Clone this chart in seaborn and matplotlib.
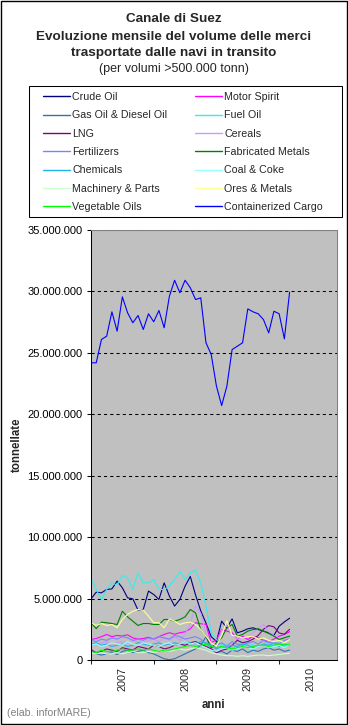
import numpy as np
import pandas as pd
import matplotlib
matplotlib.use("Agg")
import matplotlib.pyplot as plt
import seaborn as sns
from matplotlib.patches import Rectangle
from matplotlib.ticker import FuncFormatter

# ---------------- data (million tonnes per month, Jan 2007 - Mar 2010) ----------------
months = pd.date_range("2007-01-01", periods=39, freq="MS")

crude_oil = [4.98, 5.52, 5.47, 5.74, 5.79, 6.42, 5.88, 5.06, 4.98, 4.06, 4.11, 5.61, 5.33,
             4.93, 6.28, 5.20, 4.39, 4.93, 6.01, 6.80, 5.30, 4.00, 3.00, 1.90, 1.50, 3.16,
             2.60, 3.35, 2.21, 2.35, 2.54, 2.62, 2.48, 2.35, 2.21, 2.00, 2.75, 3.10, 3.40]
motor_spirit = [1.67, 1.75, 1.90, 2.08, 1.90, 2.00, 1.95, 2.05, 1.80, 1.70, 1.75, 1.85, 1.70,
                1.90, 2.08, 2.22, 2.10, 2.22, 2.30, 2.54, 3.03, 2.95, 2.90, 1.40, 1.67, 2.48,
                2.35, 2.22, 1.67, 1.94, 1.67, 1.94, 1.81, 1.60, 1.50, 1.70, 1.94, 2.08, 2.30]
gas_oil = [0.90, 0.50, 0.40, 0.50, 0.60, 0.45, 0.70, 0.80, 0.60, 0.70, 0.80, 0.60, 0.50,
           0.30, 0.10, 0.02, 0.10, 0.30, 0.50, 0.70, 0.90, 1.20, 1.90, 0.90, 0.60, 0.70,
           0.50, 0.80, 0.70, 0.90, 0.60, 0.80, 0.70, 0.90, 1.00, 0.80, 0.90, 0.70, 0.80]
fuel_oil = [6.69, 5.74, 4.92, 5.74, 6.28, 6.10, 6.88, 6.69, 5.74, 7.10, 6.28, 6.28, 6.55,
            5.74, 5.74, 6.01, 6.55, 7.23, 6.55, 7.10, 7.31, 6.28, 4.38, 2.21, 1.67, 1.20,
            1.30, 1.00, 1.20, 1.50, 1.40, 1.20, 1.10, 1.30, 1.50, 1.20, 1.40, 1.10, 1.30]
lng = [0.80, 0.60, 0.70, 0.90, 0.80, 0.70, 1.00, 0.90, 0.80, 1.10, 1.00, 0.90, 1.20,
       1.10, 0.90, 1.00, 1.20, 1.30, 1.20, 1.40, 1.50, 1.30, 1.10, 0.90, 0.60, 0.80,
       0.90, 1.20, 1.60, 1.40, 1.50, 1.70, 2.00, 2.50, 2.80, 2.70, 2.20, 2.10, 2.50]
cereals = [1.30, 1.20, 1.40, 1.50, 1.30, 1.40, 1.50, 1.40, 1.60, 1.50, 1.40, 1.60, 1.70,
           1.50, 1.80, 1.60, 1.90, 1.60, 2.10, 3.00, 4.40, 3.80, 2.20, 1.10, 0.90, 2.40,
           2.80, 2.00, 1.70, 1.80, 1.90, 2.20, 2.60, 2.90, 2.30, 2.00, 1.80, 1.60, 1.90]
fertilizers = [1.60, 1.50, 1.70, 1.60, 1.80, 1.70, 1.90, 1.80, 1.60, 1.70, 1.60, 1.80, 1.70,
               1.90, 1.80, 1.70, 2.00, 1.90, 1.70, 1.80, 1.90, 1.70, 1.30, 1.00, 1.20, 1.40,
               1.10, 1.50, 1.30, 1.20, 1.40, 1.50, 1.30, 1.60, 1.40, 1.50, 1.30, 1.60, 1.70]
fabricated_metals = [3.03, 2.55, 3.08, 3.03, 2.97, 2.89, 3.97, 3.51, 3.16, 2.81, 2.97, 2.97, 2.89,
                     2.89, 3.30, 3.30, 3.16, 3.30, 3.51, 4.11, 3.84, 2.48, 1.94, 1.00, 1.40, 1.81,
                     2.62, 2.89, 1.94, 2.08, 2.35, 2.48, 2.54, 2.35, 2.16, 1.94, 1.67, 1.81, 1.94]
chemicals = [1.30, 1.40, 1.20, 1.30, 1.10, 1.20, 1.30, 1.10, 1.20, 1.40, 1.30, 1.20, 1.30,
             1.40, 1.20, 1.30, 1.40, 1.30, 1.50, 1.40, 1.30, 1.50, 1.40, 1.20, 0.90, 1.10,
             1.00, 1.20, 1.10, 1.30, 1.20, 1.00, 1.10, 1.30, 1.20, 1.40, 1.10, 1.30, 1.20]
coal_coke = [1.20, 1.30, 1.10, 1.20, 1.40, 1.30, 1.20, 1.50, 1.30, 1.20, 1.40, 1.30, 1.20,
             1.10, 1.30, 1.40, 1.20, 1.30, 1.50, 1.30, 1.40, 1.20, 1.00, 0.80, 0.70, 0.90,
             1.00, 0.80, 0.90, 1.10, 1.00, 0.90, 1.10, 1.20, 1.00, 1.10, 1.20, 1.00, 1.30]
machinery = [0.60, 0.50, 0.60, 0.50, 0.50, 0.60, 0.50, 0.60, 0.70, 0.60, 0.60, 0.70, 0.60,
             0.70, 0.80, 0.70, 0.80, 0.90, 0.80, 0.90, 1.00, 0.90, 0.80, 0.60, 0.50, 0.40,
             0.35, 0.35, 0.30, 0.35, 0.30, 0.35, 0.40, 0.40, 0.35, 0.40, 0.45, 0.50, 0.55]
ores_metals = [3.03, 2.81, 2.97, 2.81, 2.89, 2.62, 3.30, 3.71, 3.97, 4.11, 4.06, 3.57, 3.03,
               3.03, 2.62, 3.35, 3.16, 2.89, 3.03, 3.08, 2.89, 2.48, 1.94, 1.40, 1.13, 2.00,
               3.20, 2.00, 1.94, 1.80, 1.90, 1.94, 1.70, 1.80, 1.60, 1.50, 1.60, 1.40, 1.67]
vegetable_oils = [0.70, 0.60, 0.80, 0.70, 0.70, 0.80, 0.90, 0.80, 0.80, 0.90, 0.80, 0.90, 0.80,
                  0.70, 0.80, 0.80, 0.90, 1.00, 1.10, 1.20, 1.10, 1.20, 1.30, 1.10, 1.00, 1.10,
                  1.00, 0.90, 1.00, 1.10, 1.00, 1.10, 1.20, 1.20, 1.10, 1.20, 1.30, 1.20, 1.30]
containerized = [24.19, 24.19, 26.09, 26.36, 28.34, 26.76, 29.56, 28.26, 27.45, 28.04, 26.90,
                 28.18, 27.53, 28.45, 27.04, 29.61, 30.91, 29.89, 30.91, 30.30, 29.34, 29.48,
                 25.82, 24.87, 22.30, 20.71, 22.29, 25.27, 25.54, 25.82, 28.58, 28.34, 28.18,
                 27.71, 26.63, 28.39, 28.18, 26.14, 29.94]

series_names = ["Crude Oil", "Motor Spirit", "Gas Oil & Diesel Oil", "Fuel Oil", "LNG",
                "Cereals", "Fertilizers", "Fabricated Metals", "Chemicals", "Coal & Coke",
                "Machinery & Parts", "Ores & Metals", "Vegetable Oils", "Containerized Cargo"]
series_values = [crude_oil, motor_spirit, gas_oil, fuel_oil, lng, cereals, fertilizers,
                 fabricated_metals, chemicals, coal_coke, machinery, ores_metals,
                 vegetable_oils, containerized]
series_colors = ["#000080", "#FF00FF", "#2E75B0", "#33EEEE", "#800080", "#CC99FF",
                 "#8080FF", "#008000", "#1EB4E6", "#99FFFF", "#CCFFCC", "#FFFF99",
                 "#00FF00", "#0000FF"]
year_labels = ["2007", "2008", "2009", "2010"]

# ---------------- long table ----------------
month_pos = (months.year - 2007) * 12 + (months.month - 1)
rows = []
for name, vals in zip(series_names, series_values):
    for p, v in zip(month_pos, vals):
        rows.append({"mese": p, "tonnellate": v * 1_000_000, "merce": name})
df = pd.DataFrame(rows)

sns.set_style("white")
plt.rcParams["font.family"] = ["Liberation Sans", "DejaVu Sans"]

W, H = 348, 725
fig = plt.figure(figsize=(W / 100, H / 100), dpi=100)
fig.patch.set_facecolor("white")

def fx(px):
    return px / W

def fy(py):
    return 1 - py / H

ax = fig.add_axes([fx(91), fy(660), fx(337) - fx(91), fy(230) - fy(660)])
ax.set_facecolor("#C0C0C0")

sns.lineplot(data=df, x="mese", y="tonnellate", hue="merce", hue_order=series_names,
             palette=dict(zip(series_names, series_colors)), linewidth=0.8, ax=ax,
             legend=True)

ax.set_xlim(0, 47.07)
ax.set_ylim(0, 35_000_000)
ax.set_yticks(np.arange(0, 35_000_001, 5_000_000))
ax.yaxis.set_major_formatter(FuncFormatter(lambda v, p: f"{v:,.0f}".replace(",", ".")))
ax.set_xticks([0, 12, 24, 36])
ax.set_xticklabels([])
ax.set_xticks([6, 18, 30, 42], minor=True)
ax.set_xticklabels(year_labels, minor=True, rotation=90, fontsize=7.8)
ax.tick_params(axis="y", left=True, direction="out", length=3, width=0.75,
               pad=3, labelsize=8, colors="black")
ax.tick_params(axis="x", which="major", bottom=True, direction="out", length=3, width=0.75)
ax.tick_params(axis="x", which="minor", bottom=True, length=0, pad=5)
ax.set_xlabel("")
ax.set_ylabel("")

ax.set_axisbelow(True)
ax.yaxis.grid(True, color="black", linestyle=(0, (3, 3)), linewidth=0.75)
ax.xaxis.grid(False)
for s in ["top", "right"]:
    ax.spines[s].set_color("#808080")
    ax.spines[s].set_linewidth(0.75)
for s in ["left", "bottom"]:
    ax.spines[s].set_color("black")
    ax.spines[s].set_linewidth(0.75)

# legend, row-wise order
handles, labels = ax.get_legend_handles_labels()
ax.get_legend().remove()
order = list(range(0, 14, 2)) + list(range(1, 14, 2))
leg = fig.legend([handles[i] for i in order], [labels[i] for i in order], ncol=2,
                 loc="upper left", bbox_to_anchor=(fx(43), fy(92)), frameon=False,
                 fontsize=7.7, handlelength=2.5, handletextpad=0.25, columnspacing=2.55,
                 labelspacing=0.78, borderpad=0, borderaxespad=0)
for ln in leg.get_lines():
    ln.set_linewidth(1.0)
fig.add_artist(Rectangle((fx(29), fy(217)), fx(342) - fx(29), fy(86) - fy(217),
                         transform=fig.transFigure, fill=False, ec="black", lw=0.75))

# titles
fig.text(0.5, fy(22.5), "Canale di Suez", ha="center", va="baseline",
         fontsize=9.7, fontweight="bold")
fig.text(0.5, fy(39.5), "Evoluzione mensile del volume delle merci", ha="center",
         va="baseline", fontsize=9.7, fontweight="bold")
fig.text(0.5, fy(56), "trasportate dalle navi in transito", ha="center", va="baseline",
         fontsize=9.7, fontweight="bold")
fig.text(0.5, fy(72), "(per volumi >500.000 tonn)", ha="center", va="baseline",
         fontsize=9)

fig.text(fx(17), fy(445), "tonnellate", rotation=90, ha="center", va="center",
         fontsize=8.3, fontweight="bold")
fig.text(fx(213), fy(708), "anni", ha="center", va="baseline", fontsize=8.3,
         fontweight="bold")
fig.text(fx(7), fy(716.5), "(elab. inforMARE)", ha="left", va="baseline",
         fontsize=7.6, color="#808080")

# outer chart border
fig.add_artist(Rectangle((fx(0.5), fy(723.5)), fx(346.5) - fx(0.5), fy(0.5) - fy(723.5),
                         transform=fig.transFigure, fill=False, ec="black", lw=1.0))

fig.savefig("out.png", dpi=100, facecolor="white")
